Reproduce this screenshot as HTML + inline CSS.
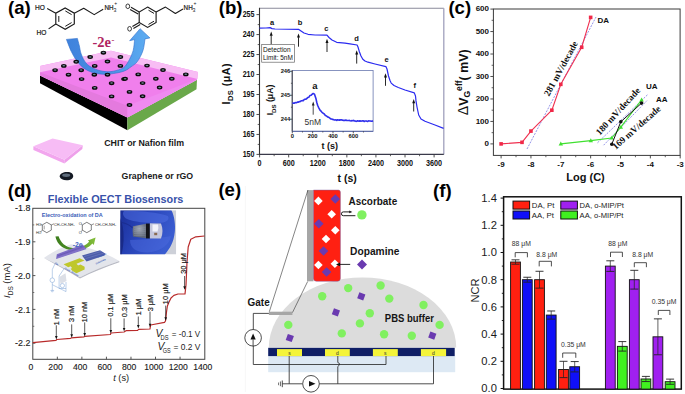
<!DOCTYPE html>
<html><head><meta charset="utf-8"><style>
html,body{margin:0;padding:0;background:#fff;}
body{width:685px;height:394px;overflow:hidden;font-family:"Liberation Sans",sans-serif;}
svg{display:block;}
</style></head><body>
<svg width="685" height="394" viewBox="0 0 685 394">
<rect width="685" height="394" fill="#fff"/>
<text x="8.00" y="14.40" font-family="Liberation Sans" font-size="18.6" font-weight="bold" font-style="normal" text-anchor="start" fill="#000" >(a)</text>
<polygon points="40.00,75.50 127.40,117.40 127.40,130.20 40.00,83.30" fill="#000" stroke="none" stroke-width="1" />
<polygon points="127.40,117.40 197.00,79.80 196.50,89.30 127.40,130.20" fill="#6aa84a" stroke="none" stroke-width="1" />
<polygon points="40.00,66.00 111.00,50.80 198.00,72.00 197.00,79.80 127.40,117.40 40.00,75.50" fill="#f07fec" stroke="none" stroke-width="1" />
<polygon points="40.00,72.20 127.40,105.80 127.40,117.40 40.00,75.50" fill="#e47ade" stroke="none" stroke-width="1" />
<polygon points="127.40,105.80 197.00,79.00 197.00,79.80 127.40,117.40" fill="#f08af0" stroke="none" stroke-width="1" />
<polygon points="40.00,66.00 111.00,50.80 198.00,72.00 197.50,79.00 111.00,57.40 40.00,72.20" fill="#f8bdf4" stroke="none" stroke-width="1" />
<defs><linearGradient id="ga" x1="0" y1="0" x2="1" y2="0"><stop offset="0" stop-color="#3f82dc"/><stop offset="0.5" stop-color="#4a90e4"/><stop offset="1" stop-color="#5eaef2"/></linearGradient></defs>
<path d="M134.60,39.60 C134.37,41.40 134.03,47.13 133.20,50.40 C132.37,53.67 130.97,56.53 129.60,59.20 C128.23,61.87 126.53,64.73 125.00,66.40 C123.47,68.07 122.73,68.33 120.40,69.20 C118.07,70.07 113.92,71.25 111.00,71.60 C108.08,71.95 105.82,71.83 102.90,71.30 C99.98,70.77 96.32,69.78 93.50,68.40 C90.68,67.02 88.05,65.40 86.00,63.00 C83.95,60.60 82.30,56.83 81.20,54.00 C80.10,51.17 80.03,48.60 79.40,46.00 C78.77,43.40 77.73,39.67 77.40,38.40 L66.4,39.4 C67.22,41.42 69.60,47.97 71.30,51.50 C73.00,55.03 74.65,57.93 76.60,60.60 C78.55,63.27 80.43,65.55 83.00,67.50 C85.57,69.45 88.50,71.17 92.00,72.30 C95.50,73.43 100.00,74.17 104.00,74.30 C108.00,74.43 112.50,73.70 116.00,73.10 C119.50,72.50 122.50,71.75 125.00,70.70 C127.50,69.65 128.95,68.32 131.00,66.80 C133.05,65.28 135.32,64.28 137.30,61.60 C139.28,58.92 141.62,54.48 142.90,50.70 C144.18,46.92 144.65,40.87 145.00,38.90 L149.9,37.9 L140.1,28.7 L129.7,40.7 Z" fill="url(#ga)" stroke="#2f6fcc" stroke-width="0.6"/>
<ellipse cx="103.40" cy="52.70" rx="2.8" ry="1.95" fill="#0a0a0a"/>
<ellipse cx="103.40" cy="52.60" rx="1.4" ry="0.75" fill="#6f8596"/>
<ellipse cx="90.20" cy="57.00" rx="2.8" ry="1.95" fill="#0a0a0a"/>
<ellipse cx="90.20" cy="56.90" rx="1.4" ry="0.75" fill="#6f8596"/>
<ellipse cx="120.40" cy="57.00" rx="2.8" ry="1.95" fill="#0a0a0a"/>
<ellipse cx="120.40" cy="56.90" rx="1.4" ry="0.75" fill="#6f8596"/>
<ellipse cx="76.20" cy="61.80" rx="2.8" ry="1.95" fill="#0a0a0a"/>
<ellipse cx="76.20" cy="61.70" rx="1.4" ry="0.75" fill="#6f8596"/>
<ellipse cx="107.50" cy="61.50" rx="2.8" ry="1.95" fill="#0a0a0a"/>
<ellipse cx="107.50" cy="61.40" rx="1.4" ry="0.75" fill="#6f8596"/>
<ellipse cx="63.80" cy="65.90" rx="2.8" ry="1.95" fill="#0a0a0a"/>
<ellipse cx="63.80" cy="65.80" rx="1.4" ry="0.75" fill="#6f8596"/>
<ellipse cx="94.70" cy="65.90" rx="2.8" ry="1.95" fill="#0a0a0a"/>
<ellipse cx="94.70" cy="65.80" rx="1.4" ry="0.75" fill="#6f8596"/>
<ellipse cx="120.40" cy="65.90" rx="2.8" ry="1.95" fill="#0a0a0a"/>
<ellipse cx="120.40" cy="65.80" rx="1.4" ry="0.75" fill="#6f8596"/>
<ellipse cx="55.10" cy="70.20" rx="2.8" ry="1.95" fill="#0a0a0a"/>
<ellipse cx="55.10" cy="70.10" rx="1.4" ry="0.75" fill="#6f8596"/>
<ellipse cx="81.20" cy="70.20" rx="2.8" ry="1.95" fill="#0a0a0a"/>
<ellipse cx="81.20" cy="70.10" rx="1.4" ry="0.75" fill="#6f8596"/>
<ellipse cx="68.50" cy="74.70" rx="2.8" ry="1.95" fill="#0a0a0a"/>
<ellipse cx="68.50" cy="74.60" rx="1.4" ry="0.75" fill="#6f8596"/>
<ellipse cx="94.30" cy="74.70" rx="2.8" ry="1.95" fill="#0a0a0a"/>
<ellipse cx="94.30" cy="74.60" rx="1.4" ry="0.75" fill="#6f8596"/>
<ellipse cx="107.50" cy="74.70" rx="2.8" ry="1.95" fill="#0a0a0a"/>
<ellipse cx="107.50" cy="74.60" rx="1.4" ry="0.75" fill="#6f8596"/>
<ellipse cx="81.60" cy="79.10" rx="2.8" ry="1.95" fill="#0a0a0a"/>
<ellipse cx="81.60" cy="79.00" rx="1.4" ry="0.75" fill="#6f8596"/>
<ellipse cx="124.00" cy="79.10" rx="2.8" ry="1.95" fill="#0a0a0a"/>
<ellipse cx="124.00" cy="79.00" rx="1.4" ry="0.75" fill="#6f8596"/>
<ellipse cx="111.60" cy="83.20" rx="2.8" ry="1.95" fill="#0a0a0a"/>
<ellipse cx="111.60" cy="83.10" rx="1.4" ry="0.75" fill="#6f8596"/>
<ellipse cx="94.70" cy="87.90" rx="2.8" ry="1.95" fill="#0a0a0a"/>
<ellipse cx="94.70" cy="87.80" rx="1.4" ry="0.75" fill="#6f8596"/>
<ellipse cx="111.60" cy="96.40" rx="2.8" ry="1.95" fill="#0a0a0a"/>
<ellipse cx="111.60" cy="96.30" rx="1.4" ry="0.75" fill="#6f8596"/>
<ellipse cx="147.00" cy="65.60" rx="2.8" ry="1.95" fill="#0a0a0a"/>
<ellipse cx="147.00" cy="65.50" rx="1.4" ry="0.75" fill="#6f8596"/>
<ellipse cx="163.00" cy="70.00" rx="2.8" ry="1.95" fill="#0a0a0a"/>
<ellipse cx="163.00" cy="69.90" rx="1.4" ry="0.75" fill="#6f8596"/>
<ellipse cx="185.80" cy="74.40" rx="2.8" ry="1.95" fill="#0a0a0a"/>
<ellipse cx="185.80" cy="74.30" rx="1.4" ry="0.75" fill="#6f8596"/>
<ellipse cx="138.20" cy="74.40" rx="2.8" ry="1.95" fill="#0a0a0a"/>
<ellipse cx="138.20" cy="74.30" rx="1.4" ry="0.75" fill="#6f8596"/>
<ellipse cx="125.10" cy="78.80" rx="2.8" ry="1.95" fill="#0a0a0a"/>
<ellipse cx="125.10" cy="78.70" rx="1.4" ry="0.75" fill="#6f8596"/>
<ellipse cx="155.80" cy="78.80" rx="2.8" ry="1.95" fill="#0a0a0a"/>
<ellipse cx="155.80" cy="78.70" rx="1.4" ry="0.75" fill="#6f8596"/>
<ellipse cx="171.80" cy="78.80" rx="2.8" ry="1.95" fill="#0a0a0a"/>
<ellipse cx="171.80" cy="78.70" rx="1.4" ry="0.75" fill="#6f8596"/>
<ellipse cx="142.60" cy="83.10" rx="2.8" ry="1.95" fill="#0a0a0a"/>
<ellipse cx="142.60" cy="83.00" rx="1.4" ry="0.75" fill="#6f8596"/>
<ellipse cx="129.50" cy="91.90" rx="2.8" ry="1.95" fill="#0a0a0a"/>
<ellipse cx="129.50" cy="91.80" rx="1.4" ry="0.75" fill="#6f8596"/>
<ellipse cx="159.60" cy="87.50" rx="2.8" ry="1.95" fill="#0a0a0a"/>
<ellipse cx="159.60" cy="87.40" rx="1.4" ry="0.75" fill="#6f8596"/>
<ellipse cx="142.60" cy="96.30" rx="2.8" ry="1.95" fill="#0a0a0a"/>
<ellipse cx="142.60" cy="96.20" rx="1.4" ry="0.75" fill="#6f8596"/>
<ellipse cx="129.50" cy="105.00" rx="2.8" ry="1.95" fill="#0a0a0a"/>
<ellipse cx="129.50" cy="104.90" rx="1.4" ry="0.75" fill="#6f8596"/>
<text x="92.40" y="46.70" font-family="Liberation Serif" font-size="14.5" font-weight="bold" font-style="normal" text-anchor="start" fill="#b02462" >-2e</text>
<text x="111.60" y="43.20" font-family="Liberation Serif" font-size="8.5" font-weight="bold" font-style="normal" text-anchor="start" fill="#b02462" >-</text>
<polygon points="65.20,8.00 74.30,13.20 74.30,24.00 65.20,29.30 55.80,24.00 55.80,13.20" fill="none" stroke="#1a1a1a" stroke-width="1.15" />
<line x1="58.80" y1="16.00" x2="58.80" y2="21.90" stroke="#1a1a1a" stroke-width="1.0" />
<line x1="65.30" y1="10.90" x2="71.60" y2="14.60" stroke="#1a1a1a" stroke-width="1.0" />
<line x1="65.30" y1="26.30" x2="71.60" y2="22.60" stroke="#1a1a1a" stroke-width="1.0" />
<line x1="47.20" y1="8.40" x2="55.80" y2="13.20" stroke="#1a1a1a" stroke-width="1.1" />
<line x1="48.60" y1="28.90" x2="55.80" y2="24.00" stroke="#1a1a1a" stroke-width="1.1" />
<polyline points="74.30,13.20 83.70,8.20 94.20,14.60 103.20,9.20" fill="none" stroke="#1a1a1a" stroke-width="1.1" stroke-linejoin="round" />
<text x="35.00" y="9.60" font-family="Liberation Sans" font-size="6.6" font-weight="normal" font-style="normal" text-anchor="start" fill="#1a1a1a" stroke="#1a1a1a" stroke-width="0.2">HO</text>
<text x="36.60" y="34.60" font-family="Liberation Sans" font-size="6.6" font-weight="normal" font-style="normal" text-anchor="start" fill="#1a1a1a" stroke="#1a1a1a" stroke-width="0.2">HO</text>
<text x="104.40" y="9.80" font-family="Liberation Sans" font-size="6.3" font-weight="normal" font-style="normal" text-anchor="start" fill="#1a1a1a" stroke="#1a1a1a" stroke-width="0.2">NH</text>
<text x="113.40" y="12.00" font-family="Liberation Sans" font-size="5.2" font-weight="normal" font-style="normal" text-anchor="start" fill="#1a1a1a" >3</text>
<text x="114.20" y="4.60" font-family="Liberation Sans" font-size="5.0" font-weight="normal" font-style="normal" text-anchor="start" fill="#1a1a1a" >+</text>
<polygon points="147.60,7.10 156.10,12.00 156.10,22.50 147.60,27.40 139.20,22.50 139.20,12.00" fill="none" stroke="#1a1a1a" stroke-width="1.15" />
<line x1="148.50" y1="10.20" x2="154.00" y2="13.40" stroke="#1a1a1a" stroke-width="1.0" />
<line x1="148.50" y1="24.40" x2="154.00" y2="21.20" stroke="#1a1a1a" stroke-width="1.0" />
<line x1="139.20" y1="12.00" x2="131.00" y2="7.20" stroke="#1a1a1a" stroke-width="1.1" />
<line x1="138.20" y1="14.10" x2="130.10" y2="9.40" stroke="#1a1a1a" stroke-width="1.1" />
<line x1="139.20" y1="22.50" x2="132.40" y2="26.40" stroke="#1a1a1a" stroke-width="1.1" />
<line x1="140.20" y1="24.60" x2="133.40" y2="28.50" stroke="#1a1a1a" stroke-width="1.1" />
<ellipse cx="127.8" cy="6.3" rx="1.9" ry="2.3" fill="none" stroke="#1a1a1a" stroke-width="0.85"/>
<ellipse cx="129.6" cy="28.8" rx="1.9" ry="2.3" fill="none" stroke="#1a1a1a" stroke-width="0.85"/>
<polyline points="156.10,12.00 165.50,7.10 175.40,13.50 183.00,9.00" fill="none" stroke="#1a1a1a" stroke-width="1.1" stroke-linejoin="round" />
<text x="183.60" y="9.80" font-family="Liberation Sans" font-size="6.3" font-weight="normal" font-style="normal" text-anchor="start" fill="#1a1a1a" stroke="#1a1a1a" stroke-width="0.2">NH</text>
<text x="192.60" y="12.00" font-family="Liberation Sans" font-size="5.2" font-weight="normal" font-style="normal" text-anchor="start" fill="#1a1a1a" >3</text>
<text x="193.40" y="4.60" font-family="Liberation Sans" font-size="5.0" font-weight="normal" font-style="normal" text-anchor="start" fill="#1a1a1a" >+</text>
<polygon points="33.40,146.30 64.40,159.70 64.40,163.60 33.40,149.90" fill="#f2a6ee" stroke="none" stroke-width="1" />
<polygon points="64.40,159.70 82.80,145.20 82.30,148.90 64.40,163.60" fill="#eea0ea" stroke="none" stroke-width="1" />
<polygon points="33.40,146.30 52.60,138.40 82.80,145.20 64.40,159.70" fill="#f7bcf5" stroke="none" stroke-width="1" />
<text x="104.20" y="146.40" font-family="Liberation Sans" font-size="9.6" font-weight="bold" font-style="normal" text-anchor="start" fill="#1a1a1a" textLength="79.8" lengthAdjust="spacingAndGlyphs">CHIT or Nafion film</text>
<path d="M59.6,176.5 C60,173.5 63,172 67,172 C71.5,172 73.4,174 73.2,176.5 C73,179 70,180.4 66.5,180.3 C63,180.2 60.5,179 59.6,176.5 Z" fill="#141a24"/>
<ellipse cx="66.2" cy="175.2" rx="4" ry="1.7" fill="#5e6c7c"/>
<text x="121.60" y="178.80" font-family="Liberation Sans" font-size="9.6" font-weight="bold" font-style="normal" text-anchor="start" fill="#1a1a1a" textLength="71.6" lengthAdjust="spacingAndGlyphs">Graphene or rGO</text>
<text x="218.80" y="14.40" font-family="Liberation Sans" font-size="18.6" font-weight="bold" font-style="normal" text-anchor="start" fill="#000" >(b)</text>
<line x1="259.50" y1="8.30" x2="443.80" y2="8.30" stroke="#8a8a9a" stroke-width="1.1" />
<line x1="443.80" y1="8.30" x2="443.80" y2="154.40" stroke="#a0a0bc" stroke-width="1.3" />
<line x1="259.50" y1="154.40" x2="443.80" y2="154.40" stroke="#3a3a4a" stroke-width="1.1" />
<line x1="259.50" y1="7.80" x2="259.50" y2="154.90" stroke="#333" stroke-width="1.1" />
<line x1="256.50" y1="154.40" x2="259.50" y2="154.40" stroke="#3a3a3a" stroke-width="0.9" />
<text x="254.50" y="156.90" font-family="Liberation Sans" font-size="8.3" font-weight="bold" font-style="normal" text-anchor="end" fill="#111" textLength="11.85" lengthAdjust="spacingAndGlyphs">150</text>
<line x1="256.50" y1="134.43" x2="259.50" y2="134.43" stroke="#3a3a3a" stroke-width="0.9" />
<text x="254.50" y="136.93" font-family="Liberation Sans" font-size="8.3" font-weight="bold" font-style="normal" text-anchor="end" fill="#111" textLength="11.85" lengthAdjust="spacingAndGlyphs">165</text>
<line x1="256.50" y1="114.46" x2="259.50" y2="114.46" stroke="#3a3a3a" stroke-width="0.9" />
<text x="254.50" y="116.96" font-family="Liberation Sans" font-size="8.3" font-weight="bold" font-style="normal" text-anchor="end" fill="#111" textLength="11.85" lengthAdjust="spacingAndGlyphs">180</text>
<line x1="256.50" y1="94.49" x2="259.50" y2="94.49" stroke="#3a3a3a" stroke-width="0.9" />
<text x="254.50" y="96.99" font-family="Liberation Sans" font-size="8.3" font-weight="bold" font-style="normal" text-anchor="end" fill="#111" textLength="11.85" lengthAdjust="spacingAndGlyphs">195</text>
<line x1="256.50" y1="74.51" x2="259.50" y2="74.51" stroke="#3a3a3a" stroke-width="0.9" />
<text x="254.50" y="77.01" font-family="Liberation Sans" font-size="8.3" font-weight="bold" font-style="normal" text-anchor="end" fill="#111" textLength="11.85" lengthAdjust="spacingAndGlyphs">210</text>
<line x1="256.50" y1="54.54" x2="259.50" y2="54.54" stroke="#3a3a3a" stroke-width="0.9" />
<text x="254.50" y="57.04" font-family="Liberation Sans" font-size="8.3" font-weight="bold" font-style="normal" text-anchor="end" fill="#111" textLength="11.85" lengthAdjust="spacingAndGlyphs">225</text>
<line x1="256.50" y1="34.57" x2="259.50" y2="34.57" stroke="#3a3a3a" stroke-width="0.9" />
<text x="254.50" y="37.07" font-family="Liberation Sans" font-size="8.3" font-weight="bold" font-style="normal" text-anchor="end" fill="#111" textLength="11.85" lengthAdjust="spacingAndGlyphs">240</text>
<line x1="256.50" y1="14.60" x2="259.50" y2="14.60" stroke="#3a3a3a" stroke-width="0.9" />
<text x="254.50" y="17.10" font-family="Liberation Sans" font-size="8.3" font-weight="bold" font-style="normal" text-anchor="end" fill="#111" textLength="11.85" lengthAdjust="spacingAndGlyphs">255</text>
<line x1="257.70" y1="144.41" x2="259.50" y2="144.41" stroke="#3a3a3a" stroke-width="0.8" />
<line x1="257.70" y1="124.44" x2="259.50" y2="124.44" stroke="#3a3a3a" stroke-width="0.8" />
<line x1="257.70" y1="104.47" x2="259.50" y2="104.47" stroke="#3a3a3a" stroke-width="0.8" />
<line x1="257.70" y1="84.50" x2="259.50" y2="84.50" stroke="#3a3a3a" stroke-width="0.8" />
<line x1="257.70" y1="64.53" x2="259.50" y2="64.53" stroke="#3a3a3a" stroke-width="0.8" />
<line x1="257.70" y1="44.56" x2="259.50" y2="44.56" stroke="#3a3a3a" stroke-width="0.8" />
<line x1="257.70" y1="24.59" x2="259.50" y2="24.59" stroke="#3a3a3a" stroke-width="0.8" />
<line x1="259.60" y1="154.40" x2="259.60" y2="157.40" stroke="#3a3a3a" stroke-width="0.9" />
<text x="259.60" y="166.00" font-family="Liberation Sans" font-size="8.4" font-weight="bold" font-style="normal" text-anchor="middle" fill="#111" textLength="4.00" lengthAdjust="spacingAndGlyphs">0</text>
<line x1="288.68" y1="154.40" x2="288.68" y2="157.40" stroke="#3a3a3a" stroke-width="0.9" />
<text x="288.68" y="166.00" font-family="Liberation Sans" font-size="8.4" font-weight="bold" font-style="normal" text-anchor="middle" fill="#111" textLength="12.00" lengthAdjust="spacingAndGlyphs">600</text>
<line x1="317.77" y1="154.40" x2="317.77" y2="157.40" stroke="#3a3a3a" stroke-width="0.9" />
<text x="317.77" y="166.00" font-family="Liberation Sans" font-size="8.4" font-weight="bold" font-style="normal" text-anchor="middle" fill="#111" textLength="16.00" lengthAdjust="spacingAndGlyphs">1200</text>
<line x1="346.85" y1="154.40" x2="346.85" y2="157.40" stroke="#3a3a3a" stroke-width="0.9" />
<text x="346.85" y="166.00" font-family="Liberation Sans" font-size="8.4" font-weight="bold" font-style="normal" text-anchor="middle" fill="#111" textLength="16.00" lengthAdjust="spacingAndGlyphs">1800</text>
<line x1="375.93" y1="154.40" x2="375.93" y2="157.40" stroke="#3a3a3a" stroke-width="0.9" />
<text x="375.93" y="166.00" font-family="Liberation Sans" font-size="8.4" font-weight="bold" font-style="normal" text-anchor="middle" fill="#111" textLength="16.00" lengthAdjust="spacingAndGlyphs">2400</text>
<line x1="405.02" y1="154.40" x2="405.02" y2="157.40" stroke="#3a3a3a" stroke-width="0.9" />
<text x="405.02" y="166.00" font-family="Liberation Sans" font-size="8.4" font-weight="bold" font-style="normal" text-anchor="middle" fill="#111" textLength="16.00" lengthAdjust="spacingAndGlyphs">3000</text>
<line x1="434.10" y1="154.40" x2="434.10" y2="157.40" stroke="#3a3a3a" stroke-width="0.9" />
<text x="434.10" y="166.00" font-family="Liberation Sans" font-size="8.4" font-weight="bold" font-style="normal" text-anchor="middle" fill="#111" textLength="16.00" lengthAdjust="spacingAndGlyphs">3600</text>
<line x1="274.14" y1="154.40" x2="274.14" y2="156.20" stroke="#3a3a3a" stroke-width="0.8" />
<line x1="303.23" y1="154.40" x2="303.23" y2="156.20" stroke="#3a3a3a" stroke-width="0.8" />
<line x1="332.31" y1="154.40" x2="332.31" y2="156.20" stroke="#3a3a3a" stroke-width="0.8" />
<line x1="361.39" y1="154.40" x2="361.39" y2="156.20" stroke="#3a3a3a" stroke-width="0.8" />
<line x1="390.48" y1="154.40" x2="390.48" y2="156.20" stroke="#3a3a3a" stroke-width="0.8" />
<line x1="419.56" y1="154.40" x2="419.56" y2="156.20" stroke="#3a3a3a" stroke-width="0.8" />
<text x="347.20" y="182.40" font-family="Liberation Sans" font-size="10.5" font-weight="bold" font-style="normal" text-anchor="middle" fill="#111" >t (s)</text>
<text transform="translate(230.0,84.0) rotate(-90)" font-family="Liberation Sans" font-size="10.8" font-weight="bold" text-anchor="middle" fill="#111" textLength="41" lengthAdjust="spacing">I<tspan font-size="7.6" dy="2.6">DS</tspan><tspan dy="-2.6"> (μA)</tspan></text>
<polyline points="259.50,28.10 266.00,28.00 270.10,27.60 272.00,28.60 275.00,29.00 298.50,29.30 301.00,31.00 304.00,33.00 308.00,34.30 315.00,35.00 327.00,35.20 329.00,37.50 332.00,40.00 336.70,42.30 345.00,43.20 350.00,43.90 357.10,45.00 358.00,47.00 359.20,51.20 361.00,56.00 362.80,59.20 365.00,61.00 368.00,62.20 375.00,64.00 385.90,66.60 387.00,69.00 388.50,76.00 390.00,80.50 391.20,83.10 394.00,85.50 398.30,87.50 405.00,90.00 414.30,92.90 415.50,96.00 416.00,100.90 417.00,107.00 418.70,115.00 421.00,119.00 425.00,121.30 435.00,125.00 443.60,128.40" fill="none" stroke="#2a2af0" stroke-width="1.2" stroke-linejoin="round" />
<line x1="271.20" y1="35.30" x2="271.20" y2="44.40" stroke="#111" stroke-width="0.9" />
<polygon points="271.20,31.60 269.70,35.80 272.70,35.80" fill="#111" stroke="none" stroke-width="1" />
<line x1="298.50" y1="37.10" x2="298.50" y2="46.70" stroke="#111" stroke-width="0.9" />
<polygon points="298.50,33.40 297.00,37.60 300.00,37.60" fill="#111" stroke="none" stroke-width="1" />
<line x1="327.00" y1="42.40" x2="327.00" y2="52.00" stroke="#111" stroke-width="0.9" />
<polygon points="327.00,38.70 325.50,42.90 328.50,42.90" fill="#111" stroke="none" stroke-width="1" />
<line x1="356.70" y1="54.00" x2="356.70" y2="63.60" stroke="#111" stroke-width="0.9" />
<polygon points="356.70,50.30 355.20,54.50 358.20,54.50" fill="#111" stroke="none" stroke-width="1" />
<line x1="385.50" y1="77.00" x2="385.50" y2="85.80" stroke="#111" stroke-width="0.9" />
<polygon points="385.50,73.30 384.00,77.50 387.00,77.50" fill="#111" stroke="none" stroke-width="1" />
<line x1="413.70" y1="102.70" x2="413.70" y2="111.50" stroke="#111" stroke-width="0.9" />
<polygon points="413.70,99.00 412.20,103.20 415.20,103.20" fill="#111" stroke="none" stroke-width="1" />
<text x="272.20" y="25.40" font-family="Liberation Sans" font-size="7.5" font-weight="bold" font-style="normal" text-anchor="middle" fill="#111" >a</text>
<text x="300.00" y="24.50" font-family="Liberation Sans" font-size="7.5" font-weight="bold" font-style="normal" text-anchor="middle" fill="#111" >b</text>
<text x="326.40" y="31.20" font-family="Liberation Sans" font-size="7.5" font-weight="bold" font-style="normal" text-anchor="middle" fill="#111" >c</text>
<text x="356.50" y="41.00" font-family="Liberation Sans" font-size="7.5" font-weight="bold" font-style="normal" text-anchor="middle" fill="#111" >d</text>
<text x="386.70" y="62.00" font-family="Liberation Sans" font-size="7.5" font-weight="bold" font-style="normal" text-anchor="middle" fill="#111" >e</text>
<text x="414.80" y="87.50" font-family="Liberation Sans" font-size="7.5" font-weight="bold" font-style="normal" text-anchor="middle" fill="#111" >f</text>
<rect x="261.70" y="44.40" width="32.70" height="17.80" fill="#fff" stroke="#666" stroke-width="0.7" />
<text x="263.00" y="51.80" font-family="Liberation Sans" font-size="7.2" font-weight="normal" font-style="normal" text-anchor="start" fill="#111" textLength="27.6" lengthAdjust="spacingAndGlyphs">Detection</text>
<text x="263.00" y="60.20" font-family="Liberation Sans" font-size="7.2" font-weight="normal" font-style="normal" text-anchor="start" fill="#111" textLength="29.8" lengthAdjust="spacingAndGlyphs">Limit: 5nM</text>
<rect x="292.20" y="70.40" width="80.90" height="60.90" fill="#fff" stroke="#6a78b0" stroke-width="0.8" />
<line x1="292.20" y1="70.40" x2="292.20" y2="131.30" stroke="#333" stroke-width="0.9" />
<line x1="292.20" y1="131.30" x2="373.10" y2="131.30" stroke="#5060a0" stroke-width="0.9" />
<line x1="290.00" y1="119.20" x2="292.20" y2="119.20" stroke="#333" stroke-width="0.8" />
<text x="290.30" y="121.20" font-family="Liberation Sans" font-size="5.8" font-weight="bold" font-style="normal" text-anchor="end" fill="#111" >244</text>
<line x1="290.00" y1="95.25" x2="292.20" y2="95.25" stroke="#333" stroke-width="0.8" />
<text x="290.30" y="97.25" font-family="Liberation Sans" font-size="5.8" font-weight="bold" font-style="normal" text-anchor="end" fill="#111" >245</text>
<line x1="290.00" y1="71.30" x2="292.20" y2="71.30" stroke="#333" stroke-width="0.8" />
<text x="290.30" y="73.30" font-family="Liberation Sans" font-size="5.8" font-weight="bold" font-style="normal" text-anchor="end" fill="#111" >246</text>
<line x1="290.90" y1="107.23" x2="292.20" y2="107.23" stroke="#333" stroke-width="0.7" />
<line x1="290.90" y1="83.28" x2="292.20" y2="83.28" stroke="#333" stroke-width="0.7" />
<line x1="292.30" y1="131.30" x2="292.30" y2="133.30" stroke="#333" stroke-width="0.8" />
<text x="292.30" y="138.40" font-family="Liberation Sans" font-size="5.8" font-weight="bold" font-style="normal" text-anchor="middle" fill="#111" >0</text>
<line x1="312.63" y1="131.30" x2="312.63" y2="133.30" stroke="#333" stroke-width="0.8" />
<text x="312.63" y="138.40" font-family="Liberation Sans" font-size="5.8" font-weight="bold" font-style="normal" text-anchor="middle" fill="#111" >200</text>
<line x1="332.97" y1="131.30" x2="332.97" y2="133.30" stroke="#333" stroke-width="0.8" />
<text x="332.97" y="138.40" font-family="Liberation Sans" font-size="5.8" font-weight="bold" font-style="normal" text-anchor="middle" fill="#111" >400</text>
<line x1="353.30" y1="131.30" x2="353.30" y2="133.30" stroke="#333" stroke-width="0.8" />
<text x="353.30" y="138.40" font-family="Liberation Sans" font-size="5.8" font-weight="bold" font-style="normal" text-anchor="middle" fill="#111" >600</text>
<line x1="302.47" y1="131.30" x2="302.47" y2="132.50" stroke="#333" stroke-width="0.7" />
<line x1="322.80" y1="131.30" x2="322.80" y2="132.50" stroke="#333" stroke-width="0.7" />
<line x1="343.13" y1="131.30" x2="343.13" y2="132.50" stroke="#333" stroke-width="0.7" />
<line x1="363.47" y1="131.30" x2="363.47" y2="132.50" stroke="#333" stroke-width="0.7" />
<text x="329.80" y="149.40" font-family="Liberation Sans" font-size="9.0" font-weight="bold" font-style="normal" text-anchor="middle" fill="#111" >t (s)</text>
<text transform="translate(273.4,100.0) rotate(-90)" font-family="Liberation Sans" font-size="8.7" font-weight="bold" text-anchor="middle" fill="#111">I<tspan font-size="6.1" dy="2.2">DS</tspan><tspan dy="-2.2"> (μA)</tspan></text>
<polyline points="292.30,103.34 293.23,103.01 294.15,103.29 295.07,102.59 296.00,102.83 296.80,102.48 297.60,102.00 298.40,102.21 299.20,101.58 300.00,101.74 300.80,101.05 301.60,100.71 302.40,100.65 303.20,100.65 304.00,99.66 304.80,99.25 305.60,99.11 306.40,98.90 307.20,98.07 308.00,97.41 309.00,97.10 310.00,95.43 311.00,95.32 312.10,94.21 313.20,93.48 314.50,94.16 316.00,98.83 316.80,102.53 317.60,105.21 318.80,107.82 320.00,110.13 321.00,111.05 322.00,112.38 323.00,113.11 323.80,113.70 324.60,114.44 325.40,115.46 326.20,115.83 327.00,116.33 327.80,117.03 328.60,117.36 329.40,117.67 330.20,118.56 331.00,118.93 331.80,118.97 332.64,119.43 333.48,119.54 334.32,120.02 335.16,120.05 336.00,119.81 336.82,120.45 337.64,119.69 338.45,119.98 339.27,120.30 340.09,119.78 340.91,120.10 341.73,119.71 342.55,120.30 343.36,120.40 344.18,120.25 345.00,120.54 345.88,120.08 346.75,120.48 347.62,120.43 348.50,120.47 349.38,120.41 350.25,120.81 351.12,120.95 352.00,120.58 352.80,120.81 353.60,120.32 354.40,120.96 355.20,120.97 356.00,121.34 356.80,121.25 357.60,120.83 358.40,120.98 359.20,121.29 360.00,120.77 360.86,121.18 361.71,120.93 362.57,120.90 363.43,120.86 364.29,121.51 365.14,120.95 366.00,121.07 366.88,121.14 367.75,121.51 368.62,120.74 369.50,121.00 370.38,121.03 371.25,121.27 372.12,121.15 373.00,120.80" fill="none" stroke="#3030ec" stroke-width="1.6" stroke-linejoin="round" />
<line x1="313.20" y1="104.90" x2="313.20" y2="114.70" stroke="#222" stroke-width="0.8" />
<polygon points="313.20,101.40 311.80,105.40 314.60,105.40" fill="#222" stroke="none" stroke-width="1" />
<text x="315.00" y="88.60" font-family="Liberation Sans" font-size="9.5" font-weight="bold" font-style="normal" text-anchor="middle" fill="#111" >a</text>
<text x="312.80" y="124.60" font-family="Liberation Sans" font-size="8.5" font-weight="normal" font-style="normal" text-anchor="middle" fill="#333" >5nM</text>
<text x="448.40" y="14.40" font-family="Liberation Sans" font-size="18.6" font-weight="bold" font-style="normal" text-anchor="start" fill="#000" >(c)</text>
<rect x="493.40" y="9.00" width="186.70" height="146.40" fill="none" stroke="#3a3a3a" stroke-width="1" />
<line x1="490.40" y1="143.90" x2="493.40" y2="143.90" stroke="#3a3a3a" stroke-width="0.9" />
<text x="489.00" y="146.20" font-family="Liberation Sans" font-size="8" font-weight="bold" font-style="normal" text-anchor="end" fill="#111" >0</text>
<line x1="490.40" y1="121.43" x2="493.40" y2="121.43" stroke="#3a3a3a" stroke-width="0.9" />
<text x="489.00" y="123.73" font-family="Liberation Sans" font-size="8" font-weight="bold" font-style="normal" text-anchor="end" fill="#111" >100</text>
<line x1="490.40" y1="98.96" x2="493.40" y2="98.96" stroke="#3a3a3a" stroke-width="0.9" />
<text x="489.00" y="101.26" font-family="Liberation Sans" font-size="8" font-weight="bold" font-style="normal" text-anchor="end" fill="#111" >200</text>
<line x1="490.40" y1="76.49" x2="493.40" y2="76.49" stroke="#3a3a3a" stroke-width="0.9" />
<text x="489.00" y="78.79" font-family="Liberation Sans" font-size="8" font-weight="bold" font-style="normal" text-anchor="end" fill="#111" >300</text>
<line x1="490.40" y1="54.02" x2="493.40" y2="54.02" stroke="#3a3a3a" stroke-width="0.9" />
<text x="489.00" y="56.32" font-family="Liberation Sans" font-size="8" font-weight="bold" font-style="normal" text-anchor="end" fill="#111" >400</text>
<line x1="490.40" y1="31.55" x2="493.40" y2="31.55" stroke="#3a3a3a" stroke-width="0.9" />
<text x="489.00" y="33.85" font-family="Liberation Sans" font-size="8" font-weight="bold" font-style="normal" text-anchor="end" fill="#111" >500</text>
<line x1="490.40" y1="9.08" x2="493.40" y2="9.08" stroke="#3a3a3a" stroke-width="0.9" />
<text x="489.00" y="11.38" font-family="Liberation Sans" font-size="8" font-weight="bold" font-style="normal" text-anchor="end" fill="#111" >600</text>
<line x1="491.60" y1="132.66" x2="493.40" y2="132.66" stroke="#3a3a3a" stroke-width="0.8" />
<line x1="491.60" y1="110.20" x2="493.40" y2="110.20" stroke="#3a3a3a" stroke-width="0.8" />
<line x1="491.60" y1="87.72" x2="493.40" y2="87.72" stroke="#3a3a3a" stroke-width="0.8" />
<line x1="491.60" y1="65.25" x2="493.40" y2="65.25" stroke="#3a3a3a" stroke-width="0.8" />
<line x1="491.60" y1="42.78" x2="493.40" y2="42.78" stroke="#3a3a3a" stroke-width="0.8" />
<line x1="491.60" y1="20.31" x2="493.40" y2="20.31" stroke="#3a3a3a" stroke-width="0.8" />
<line x1="501.10" y1="155.40" x2="501.10" y2="158.40" stroke="#3a3a3a" stroke-width="0.9" />
<text x="501.10" y="167.20" font-family="Liberation Sans" font-size="8" font-weight="bold" font-style="normal" text-anchor="middle" fill="#111" >-9</text>
<line x1="530.95" y1="155.40" x2="530.95" y2="158.40" stroke="#3a3a3a" stroke-width="0.9" />
<text x="530.95" y="167.20" font-family="Liberation Sans" font-size="8" font-weight="bold" font-style="normal" text-anchor="middle" fill="#111" >-8</text>
<line x1="560.80" y1="155.40" x2="560.80" y2="158.40" stroke="#3a3a3a" stroke-width="0.9" />
<text x="560.80" y="167.20" font-family="Liberation Sans" font-size="8" font-weight="bold" font-style="normal" text-anchor="middle" fill="#111" >-7</text>
<line x1="590.65" y1="155.40" x2="590.65" y2="158.40" stroke="#3a3a3a" stroke-width="0.9" />
<text x="590.65" y="167.20" font-family="Liberation Sans" font-size="8" font-weight="bold" font-style="normal" text-anchor="middle" fill="#111" >-6</text>
<line x1="620.50" y1="155.40" x2="620.50" y2="158.40" stroke="#3a3a3a" stroke-width="0.9" />
<text x="620.50" y="167.20" font-family="Liberation Sans" font-size="8" font-weight="bold" font-style="normal" text-anchor="middle" fill="#111" >-5</text>
<line x1="650.35" y1="155.40" x2="650.35" y2="158.40" stroke="#3a3a3a" stroke-width="0.9" />
<text x="650.35" y="167.20" font-family="Liberation Sans" font-size="8" font-weight="bold" font-style="normal" text-anchor="middle" fill="#111" >-4</text>
<line x1="680.20" y1="155.40" x2="680.20" y2="158.40" stroke="#3a3a3a" stroke-width="0.9" />
<text x="680.20" y="167.20" font-family="Liberation Sans" font-size="8" font-weight="bold" font-style="normal" text-anchor="middle" fill="#111" >-3</text>
<line x1="516.02" y1="155.40" x2="516.02" y2="157.20" stroke="#3a3a3a" stroke-width="0.8" />
<line x1="545.88" y1="155.40" x2="545.88" y2="157.20" stroke="#3a3a3a" stroke-width="0.8" />
<line x1="575.73" y1="155.40" x2="575.73" y2="157.20" stroke="#3a3a3a" stroke-width="0.8" />
<line x1="605.58" y1="155.40" x2="605.58" y2="157.20" stroke="#3a3a3a" stroke-width="0.8" />
<line x1="635.43" y1="155.40" x2="635.43" y2="157.20" stroke="#3a3a3a" stroke-width="0.8" />
<line x1="665.28" y1="155.40" x2="665.28" y2="157.20" stroke="#3a3a3a" stroke-width="0.8" />
<text x="585.50" y="181.20" font-family="Liberation Sans" font-size="11" font-weight="bold" font-style="normal" text-anchor="middle" fill="#111" >Log (C)</text>
<text transform="translate(467.6,82.3) rotate(-90)" font-family="Liberation Sans" font-size="12.4" font-weight="bold" text-anchor="middle" fill="#111"><tspan font-weight="normal" font-size="14">Δ</tspan>V<tspan font-size="8.6" dy="2.8">G</tspan><tspan font-size="8.6" dy="-8.6">eff</tspan><tspan dy="5.8">( mV)</tspan></text>
<line x1="527.00" y1="149.00" x2="596.00" y2="17.00" stroke="#4848d8" stroke-width="0.6" stroke-dasharray="2,1.2"/>
<line x1="597.50" y1="142.80" x2="648.10" y2="94.20" stroke="#4848d8" stroke-width="0.6" stroke-dasharray="2,1.2"/>
<line x1="603.60" y1="145.20" x2="646.90" y2="100.70" stroke="#4848d8" stroke-width="0.6" stroke-dasharray="2,1.2"/>
<polyline points="501.10,143.90 522.00,142.33 530.95,131.09 551.85,110.20 560.80,84.35 581.70,47.28 590.65,17.39" fill="none" stroke="#f03050" stroke-width="1.1" stroke-linejoin="round" />
<rect x="499.30" y="142.10" width="3.60" height="3.60" fill="#f02848" stroke="none" stroke-width="1" />
<rect x="520.20" y="140.53" width="3.60" height="3.60" fill="#f02848" stroke="none" stroke-width="1" />
<rect x="529.15" y="129.29" width="3.60" height="3.60" fill="#f02848" stroke="none" stroke-width="1" />
<rect x="550.05" y="108.40" width="3.60" height="3.60" fill="#f02848" stroke="none" stroke-width="1" />
<rect x="559.00" y="82.55" width="3.60" height="3.60" fill="#f02848" stroke="none" stroke-width="1" />
<rect x="579.90" y="45.48" width="3.60" height="3.60" fill="#f02848" stroke="none" stroke-width="1" />
<rect x="588.85" y="15.59" width="3.60" height="3.60" fill="#f02848" stroke="none" stroke-width="1" />
<polyline points="560.80,143.90 590.80,140.60 611.70,138.00 620.80,127.20 641.60,99.90" fill="none" stroke="#40e030" stroke-width="1.1" stroke-linejoin="round" />
<polygon points="560.80,141.60 558.60,145.50 563.00,145.50" fill="#40e030" stroke="none" stroke-width="1" />
<polygon points="590.80,138.30 588.60,142.20 593.00,142.20" fill="#40e030" stroke="none" stroke-width="1" />
<polygon points="611.70,135.70 609.50,139.60 613.90,139.60" fill="#40e030" stroke="none" stroke-width="1" />
<polygon points="620.80,124.90 618.60,128.80 623.00,128.80" fill="#40e030" stroke="none" stroke-width="1" />
<polygon points="641.60,97.60 639.40,101.50 643.80,101.50" fill="#40e030" stroke="none" stroke-width="1" />
<polyline points="611.80,144.20 620.80,121.80 641.60,103.10" fill="none" stroke="#111" stroke-width="1.0" stroke-linejoin="round" />
<circle cx="611.80" cy="144.20" r="1.80" fill="#111" stroke="none" stroke-width="1" />
<circle cx="620.80" cy="121.80" r="1.80" fill="#111" stroke="none" stroke-width="1" />
<circle cx="641.60" cy="103.10" r="1.80" fill="#111" stroke="none" stroke-width="1" />
<text x="597.50" y="23.20" font-family="Liberation Sans" font-size="8" font-weight="bold" font-style="normal" text-anchor="start" fill="#111" >DA</text>
<text x="646.00" y="89.40" font-family="Liberation Sans" font-size="8" font-weight="bold" font-style="normal" text-anchor="start" fill="#111" >UA</text>
<text x="656.00" y="102.00" font-family="Liberation Sans" font-size="8" font-weight="bold" font-style="normal" text-anchor="start" fill="#111" >AA</text>
<text transform="translate(563.60,70.00) rotate(-61.5)" font-family="Liberation Serif" font-size="9.3" font-weight="bold" text-anchor="middle" fill="#111">281 mV/decade</text>
<text transform="translate(620.30,113.30) rotate(-47.5)" font-family="Liberation Serif" font-size="9.3" font-weight="bold" text-anchor="middle" fill="#111">180 mV/decade</text>
<text transform="translate(638.60,129.80) rotate(-41.5)" font-family="Liberation Serif" font-size="9.3" font-weight="bold" text-anchor="middle" fill="#111">169 mV/decade</text>
<text x="7.80" y="196.70" font-family="Liberation Sans" font-size="18.6" font-weight="bold" font-style="normal" text-anchor="start" fill="#000" >(d)</text>
<text x="47.80" y="203.20" font-family="Liberation Sans" font-size="10.85" font-weight="bold" font-style="normal" text-anchor="start" fill="#3852aa" >Flexible OECT Biosensors</text>
<rect x="32.80" y="208.30" width="172.00" height="151.00" fill="none" stroke="#444" stroke-width="1" />
<text x="30.40" y="211.20" font-family="Liberation Sans" font-size="8.9" font-weight="normal" font-style="normal" text-anchor="end" fill="#1a1a1a" stroke="#1a1a1a" stroke-width="0.12">-1.8</text>
<line x1="32.80" y1="241.80" x2="35.40" y2="241.80" stroke="#444" stroke-width="0.9" />
<text x="30.40" y="245.00" font-family="Liberation Sans" font-size="8.9" font-weight="normal" font-style="normal" text-anchor="end" fill="#1a1a1a" stroke="#1a1a1a" stroke-width="0.12">-1.9</text>
<line x1="32.80" y1="275.60" x2="35.40" y2="275.60" stroke="#444" stroke-width="0.9" />
<text x="30.40" y="278.80" font-family="Liberation Sans" font-size="8.9" font-weight="normal" font-style="normal" text-anchor="end" fill="#1a1a1a" stroke="#1a1a1a" stroke-width="0.12">-2.0</text>
<line x1="32.80" y1="309.40" x2="35.40" y2="309.40" stroke="#444" stroke-width="0.9" />
<text x="30.40" y="312.60" font-family="Liberation Sans" font-size="8.9" font-weight="normal" font-style="normal" text-anchor="end" fill="#1a1a1a" stroke="#1a1a1a" stroke-width="0.12">-2.1</text>
<line x1="32.80" y1="343.20" x2="35.40" y2="343.20" stroke="#444" stroke-width="0.9" />
<text x="30.40" y="346.40" font-family="Liberation Sans" font-size="8.9" font-weight="normal" font-style="normal" text-anchor="end" fill="#1a1a1a" stroke="#1a1a1a" stroke-width="0.12">-2.2</text>
<line x1="32.80" y1="224.90" x2="34.30" y2="224.90" stroke="#444" stroke-width="0.7" />
<line x1="32.80" y1="258.70" x2="34.30" y2="258.70" stroke="#444" stroke-width="0.7" />
<line x1="32.80" y1="292.50" x2="34.30" y2="292.50" stroke="#444" stroke-width="0.7" />
<line x1="32.80" y1="326.30" x2="34.30" y2="326.30" stroke="#444" stroke-width="0.7" />
<text x="31.00" y="369.50" font-family="Liberation Sans" font-size="8.6" font-weight="normal" font-style="normal" text-anchor="middle" fill="#1a1a1a" stroke="#1a1a1a" stroke-width="0.12">0</text>
<line x1="57.34" y1="359.30" x2="57.34" y2="356.70" stroke="#444" stroke-width="0.9" />
<text x="55.54" y="369.50" font-family="Liberation Sans" font-size="8.6" font-weight="normal" font-style="normal" text-anchor="middle" fill="#1a1a1a" stroke="#1a1a1a" stroke-width="0.12">200</text>
<line x1="81.89" y1="359.30" x2="81.89" y2="356.70" stroke="#444" stroke-width="0.9" />
<text x="80.09" y="369.50" font-family="Liberation Sans" font-size="8.6" font-weight="normal" font-style="normal" text-anchor="middle" fill="#1a1a1a" stroke="#1a1a1a" stroke-width="0.12">400</text>
<line x1="106.43" y1="359.30" x2="106.43" y2="356.70" stroke="#444" stroke-width="0.9" />
<text x="104.63" y="369.50" font-family="Liberation Sans" font-size="8.6" font-weight="normal" font-style="normal" text-anchor="middle" fill="#1a1a1a" stroke="#1a1a1a" stroke-width="0.12">600</text>
<line x1="130.97" y1="359.30" x2="130.97" y2="356.70" stroke="#444" stroke-width="0.9" />
<text x="129.17" y="369.50" font-family="Liberation Sans" font-size="8.6" font-weight="normal" font-style="normal" text-anchor="middle" fill="#1a1a1a" stroke="#1a1a1a" stroke-width="0.12">800</text>
<line x1="155.51" y1="359.30" x2="155.51" y2="356.70" stroke="#444" stroke-width="0.9" />
<text x="153.71" y="369.50" font-family="Liberation Sans" font-size="8.6" font-weight="normal" font-style="normal" text-anchor="middle" fill="#1a1a1a" stroke="#1a1a1a" stroke-width="0.12">1000</text>
<line x1="180.06" y1="359.30" x2="180.06" y2="356.70" stroke="#444" stroke-width="0.9" />
<text x="178.26" y="369.50" font-family="Liberation Sans" font-size="8.6" font-weight="normal" font-style="normal" text-anchor="middle" fill="#1a1a1a" stroke="#1a1a1a" stroke-width="0.12">1200</text>
<text x="202.80" y="369.50" font-family="Liberation Sans" font-size="8.6" font-weight="normal" font-style="normal" text-anchor="middle" fill="#1a1a1a" stroke="#1a1a1a" stroke-width="0.12">1400</text>
<text x="113.2" y="380.7" font-family="Liberation Sans" font-size="9.3" fill="#222"><tspan font-style="italic">t</tspan> (s)</text>
<text transform="translate(10.3,280.5) rotate(-90)" font-family="Liberation Sans" font-size="9.5" text-anchor="middle" fill="#222"><tspan font-style="italic">I</tspan><tspan font-size="6.5" dy="2.2">DS</tspan><tspan dy="-2.2"> (mA)</tspan></text>
<polyline points="32.80,342.60 56.00,340.30 56.80,339.50 70.60,338.40 71.20,337.90 84.00,336.80 84.60,336.40 110.40,334.50 111.00,333.00 124.00,332.00 126.00,330.70 137.60,330.40 138.60,329.40 150.00,329.00 150.60,325.00 164.50,322.40 165.50,321.00 166.50,312.00 167.40,306.00 168.80,302.50 171.00,298.00 173.90,295.40 178.00,294.00 185.00,293.90 186.00,285.00 187.00,262.00 188.20,247.00 190.80,239.30 195.80,236.80 204.50,236.00" fill="none" stroke="#b82a2a" stroke-width="1.2" stroke-linejoin="round" />
<line x1="56.30" y1="325.30" x2="56.30" y2="336.50" stroke="#111" stroke-width="0.7" />
<polygon points="56.30,339.50 55.00,336.00 57.60,336.00" fill="#111" stroke="none" stroke-width="1" />
<text transform="translate(58.90,317.00) rotate(-90)" font-family="Liberation Sans" font-size="7.4" text-anchor="middle" fill="#1a1a1a" stroke="#1a1a1a" stroke-width="0.18">1 nM</text>
<line x1="71.70" y1="324.40" x2="71.70" y2="334.70" stroke="#111" stroke-width="0.7" />
<polygon points="71.70,337.70 70.40,334.20 73.00,334.20" fill="#111" stroke="none" stroke-width="1" />
<text transform="translate(74.30,313.70) rotate(-90)" font-family="Liberation Sans" font-size="7.4" text-anchor="middle" fill="#1a1a1a" stroke="#1a1a1a" stroke-width="0.18">3 nM</text>
<line x1="84.70" y1="322.40" x2="84.70" y2="333.50" stroke="#111" stroke-width="0.7" />
<polygon points="84.70,336.50 83.40,333.00 86.00,333.00" fill="#111" stroke="none" stroke-width="1" />
<text transform="translate(87.30,312.00) rotate(-90)" font-family="Liberation Sans" font-size="7.4" text-anchor="middle" fill="#1a1a1a" stroke="#1a1a1a" stroke-width="0.18">10 nM</text>
<line x1="110.80" y1="318.20" x2="110.80" y2="330.40" stroke="#111" stroke-width="0.7" />
<polygon points="110.80,333.40 109.50,329.90 112.10,329.90" fill="#111" stroke="none" stroke-width="1" />
<text transform="translate(113.40,305.30) rotate(-90)" font-family="Liberation Sans" font-size="7.4" text-anchor="middle" fill="#1a1a1a" stroke="#1a1a1a" stroke-width="0.18">0.1 μM</text>
<line x1="124.10" y1="318.40" x2="124.10" y2="328.50" stroke="#111" stroke-width="0.7" />
<polygon points="124.10,331.50 122.80,328.00 125.40,328.00" fill="#111" stroke="none" stroke-width="1" />
<text transform="translate(126.70,305.80) rotate(-90)" font-family="Liberation Sans" font-size="7.4" text-anchor="middle" fill="#1a1a1a" stroke="#1a1a1a" stroke-width="0.18">0.3 μM</text>
<line x1="138.30" y1="316.50" x2="138.30" y2="325.50" stroke="#111" stroke-width="0.7" />
<polygon points="138.30,328.50 137.00,325.00 139.60,325.00" fill="#111" stroke="none" stroke-width="1" />
<text transform="translate(140.90,307.00) rotate(-90)" font-family="Liberation Sans" font-size="7.4" text-anchor="middle" fill="#1a1a1a" stroke="#1a1a1a" stroke-width="0.18">1 μM</text>
<line x1="150.00" y1="311.60" x2="150.00" y2="324.20" stroke="#111" stroke-width="0.7" />
<polygon points="150.00,327.20 148.70,323.70 151.30,323.70" fill="#111" stroke="none" stroke-width="1" />
<text transform="translate(152.60,303.00) rotate(-90)" font-family="Liberation Sans" font-size="7.4" text-anchor="middle" fill="#1a1a1a" stroke="#1a1a1a" stroke-width="0.18">3 μM</text>
<line x1="165.70" y1="305.60" x2="165.70" y2="317.80" stroke="#111" stroke-width="0.7" />
<polygon points="165.70,320.80 164.40,317.30 167.00,317.30" fill="#111" stroke="none" stroke-width="1" />
<text transform="translate(168.30,293.80) rotate(-90)" font-family="Liberation Sans" font-size="7.4" text-anchor="middle" fill="#1a1a1a" stroke="#1a1a1a" stroke-width="0.18">10 μM</text>
<line x1="184.60" y1="276.00" x2="184.60" y2="286.80" stroke="#111" stroke-width="0.7" />
<polygon points="184.60,289.80 183.30,286.30 185.90,286.30" fill="#111" stroke="none" stroke-width="1" />
<text transform="translate(185.70,263.50) rotate(-90)" font-family="Liberation Sans" font-size="7.4" text-anchor="middle" fill="#1a1a1a" stroke="#1a1a1a" stroke-width="0.18">30 μM</text>
<text x="155.40" y="336.90" font-family="Liberation Sans" font-size="10.4" font-weight="normal" font-style="italic" text-anchor="start" fill="#222" >V</text>
<text x="160.60" y="339.60" font-family="Liberation Sans" font-size="6.3" font-weight="normal" font-style="normal" text-anchor="start" fill="#222" textLength="8" lengthAdjust="spacingAndGlyphs">DS</text>
<text x="171.80" y="336.90" font-family="Liberation Sans" font-size="9.8" font-weight="normal" font-style="normal" text-anchor="start" fill="#222" textLength="28.4" lengthAdjust="spacingAndGlyphs">= -0.1 V</text>
<text x="157.60" y="350.30" font-family="Liberation Sans" font-size="10.4" font-weight="normal" font-style="italic" text-anchor="start" fill="#222" >V</text>
<text x="162.80" y="353.00" font-family="Liberation Sans" font-size="6.3" font-weight="normal" font-style="normal" text-anchor="start" fill="#222" textLength="8" lengthAdjust="spacingAndGlyphs">GS</text>
<text x="173.60" y="350.30" font-family="Liberation Sans" font-size="9.8" font-weight="normal" font-style="normal" text-anchor="start" fill="#222" textLength="26.8" lengthAdjust="spacingAndGlyphs">= 0.2 V</text>
<defs><linearGradient id="pg" x1="0" y1="0" x2="1" y2="0.4"><stop offset="0" stop-color="#1a2e98"/><stop offset="0.45" stop-color="#2844b8"/><stop offset="1" stop-color="#3a5cd0"/></linearGradient><radialGradient id="pdev" cx="0.5" cy="0.35" r="0.6"><stop offset="0" stop-color="#a4aab8"/><stop offset="1" stop-color="#5e6676"/></radialGradient><clipPath id="pc"><rect x="120.2" y="210.2" width="56" height="44.3"/></clipPath></defs>
<g clip-path="url(#pc)">
<rect x="120.20" y="210.20" width="56.00" height="44.30" fill="#cdd0d8" stroke="none" stroke-width="1" />
<path d="M120.2,210.2 L171.4,210.2 C174.6,216 175.6,226 174.8,232 C173.8,242 170,248.5 164.8,254.5 L120.2,254.5 Z" fill="url(#pg)"/>
<path d="M124,211 C136,210.5 156,211.5 168,216 C170,220 166,223 158,223 C146,223 134,222 127,219 C123,217 122,213 124,211 Z" fill="#4e6ee2" opacity="0.55"/>
<path d="M130,240 C142,239.5 160,238.5 171,236 C170,244 162,251 148,252.5 C138,253 130,249 130,240 Z" fill="#4c6ade" opacity="0.5"/>
<path d="M120.2,218 C124.5,228 124.5,243 121.5,254.5 L120.2,254.5 Z" fill="#16257e" opacity="0.8"/>
<path d="M122,222.5 C128,224 131,226 132.6,228" stroke="#1a2a88" stroke-width="1.2" fill="none" opacity="0.7"/>
<path d="M133,226.2 Q132.2,231.2 133,236.4 L146,238.2 L146,223.8 Z" fill="url(#pdev)"/>
<line x1="134.00" y1="227.50" x2="145.50" y2="227.30" stroke="#8c94a4" stroke-width="0.4" />
<line x1="134.00" y1="229.50" x2="145.50" y2="229.30" stroke="#8c94a4" stroke-width="0.4" />
<line x1="134.00" y1="231.50" x2="145.50" y2="231.30" stroke="#8c94a4" stroke-width="0.4" />
<line x1="134.00" y1="233.50" x2="145.50" y2="233.30" stroke="#8c94a4" stroke-width="0.4" />
<line x1="134.00" y1="235.50" x2="145.50" y2="235.30" stroke="#8c94a4" stroke-width="0.4" />
<rect x="146.00" y="223.60" width="3.90" height="14.80" fill="#121218" stroke="none" stroke-width="1" />
<path d="M149.9,223.3 L161,223.6 Q164,231 161,238.6 L149.9,238.6 Z" fill="#c4c6dc"/>
<path d="M152.5,224.5 L158,224.5 Q159,228 157.5,231.5 L152.5,231.5 Z" fill="#f2f2fa"/>
<rect x="154.20" y="232.80" width="3.00" height="2.40" fill="#8a6a50" stroke="none" stroke-width="1" />
</g>
<text x="41.80" y="217.20" font-family="Liberation Sans" font-size="5.3" font-weight="bold" font-style="normal" text-anchor="start" fill="#3a5cb8" textLength="61" lengthAdjust="spacingAndGlyphs">Electro-oxidation of DA</text>
<polygon points="46.80,222.30 51.30,224.90 51.30,230.10 46.80,232.70 42.30,230.10 42.30,224.90" fill="none" stroke="#2a2a2a" stroke-width="0.6" />
<line x1="44.20" y1="225.60" x2="44.20" y2="229.40" stroke="#2a2a2a" stroke-width="0.45" />
<text x="35.90" y="225.60" font-family="Liberation Sans" font-size="3.7" font-weight="normal" font-style="normal" text-anchor="start" fill="#2a2a2a" >HO</text>
<text x="35.90" y="233.80" font-family="Liberation Sans" font-size="3.7" font-weight="normal" font-style="normal" text-anchor="start" fill="#2a2a2a" >HO</text>
<line x1="40.40" y1="224.60" x2="42.30" y2="224.90" stroke="#2a2a2a" stroke-width="0.5" />
<line x1="40.40" y1="232.20" x2="42.30" y2="230.10" stroke="#2a2a2a" stroke-width="0.5" />
<line x1="51.30" y1="224.90" x2="54.00" y2="223.80" stroke="#2a2a2a" stroke-width="0.5" />
<text x="54.10" y="226.00" font-family="Liberation Sans" font-size="3.7" font-weight="normal" font-style="normal" text-anchor="start" fill="#2a2a2a" textLength="20.7" lengthAdjust="spacingAndGlyphs">CH₂CH₂NH₂</text>
<polygon points="86.80,222.30 91.30,224.90 91.30,230.10 86.80,232.70 82.30,230.10 82.30,224.90" fill="none" stroke="#2a2a2a" stroke-width="0.6" />
<text x="78.80" y="225.20" font-family="Liberation Sans" font-size="3.9" font-weight="normal" font-style="normal" text-anchor="start" fill="#2a2a2a" >O</text>
<text x="78.80" y="233.60" font-family="Liberation Sans" font-size="3.9" font-weight="normal" font-style="normal" text-anchor="start" fill="#2a2a2a" >O</text>
<line x1="81.40" y1="224.20" x2="82.30" y2="224.90" stroke="#2a2a2a" stroke-width="0.5" />
<line x1="81.40" y1="231.60" x2="82.30" y2="230.10" stroke="#2a2a2a" stroke-width="0.5" />
<line x1="91.30" y1="224.90" x2="94.00" y2="223.80" stroke="#2a2a2a" stroke-width="0.5" />
<text x="94.90" y="226.00" font-family="Liberation Sans" font-size="3.7" font-weight="normal" font-style="normal" text-anchor="start" fill="#2a2a2a" textLength="21.3" lengthAdjust="spacingAndGlyphs">CH₂CH₂NH₂</text>
<path d="M43.9,258.1 C52,252 61,247 71,244.2 C88,246.5 105,252.5 119.3,261.1 C105,266 92,271 80,277.2 C68,270 55,263 43.9,258.1 Z" fill="#e3e5eb"/>
<path d="M80,277.2 C92,271 105,266 119.3,261.1 L119.3,262.2 C105,267.2 92,272.3 80,278.4 C68,271.2 55,264.2 43.9,258.1 C55,263 68,270 80,277.2 Z" fill="#b8bac4"/>
<defs><linearGradient id="gg" x1="0" y1="0" x2="1" y2="0"><stop offset="0" stop-color="#3e7e1e"/><stop offset="0.5" stop-color="#4e9024"/><stop offset="1" stop-color="#86c03c"/></linearGradient></defs>
<path d="M55.4,236.4 L58.6,236.2 C60.5,242.5 65.5,247 72.5,248 C79.5,248.6 85.6,246 89.2,241.6 L87.8,240.4 L95.6,237.4 L93.8,245 L92.4,243.6 C88.4,248.6 81.5,250.6 72.5,250.2 C63.5,249.6 57,244.4 55.4,236.4 Z" fill="url(#gg)"/>
<polygon points="56.10,259.00 56.80,254.30 82.70,244.60 86.60,249.00" fill="#7b6ac4" stroke="none" stroke-width="1" />
<line x1="57.50" y1="256.00" x2="83.50" y2="246.60" stroke="#6656b4" stroke-width="0.8" />
<line x1="57.50" y1="257.80" x2="85.00" y2="248.20" stroke="#8e80d0" stroke-width="0.5" />
<polygon points="82.00,255.60 100.00,250.20 105.20,253.60 104.50,255.50 86.50,261.40" fill="#4e5daa" stroke="none" stroke-width="1" />
<line x1="84.00" y1="256.60" x2="101.50" y2="251.40" stroke="#7886c6" stroke-width="0.5" />
<line x1="85.50" y1="258.60" x2="103.50" y2="253.20" stroke="#7886c6" stroke-width="0.5" />
<polygon points="63.60,264.20 79.60,258.20 84.50,260.60 76.50,263.80 78.60,266.00 72.50,268.40 70.60,266.20 68.20,267.30" fill="#bfc72c" stroke="none" stroke-width="1" />
<polygon points="70.50,268.80 80.50,264.60 84.60,266.80 84.60,269.60 76.40,273.20 72.50,271.00" fill="#bfc72c" stroke="none" stroke-width="1" />
<text x="72.80" y="247.30" font-family="Liberation Sans" font-size="6.8" font-weight="bold" font-style="normal" text-anchor="start" fill="#4466c4" >-2e</text>
<polyline points="55.60,262.40 52.30,269.50 52.30,277.90" fill="none" stroke="#78a0d4" stroke-width="0.5" stroke-linejoin="round" />
<circle cx="52.30" cy="280.20" r="2.30" fill="#fff" stroke="#78a0d4" stroke-width="0.5" />
<polyline points="52.30,282.50 52.30,290.80" fill="none" stroke="#78a0d4" stroke-width="0.5" stroke-linejoin="round" />
<polygon points="50.80,290.40 53.80,290.40 52.30,292.20" fill="none" stroke="#78a0d4" stroke-width="0.5" />
<polyline points="52.30,284.70 66.00,291.60 66.00,282.00" fill="none" stroke="#78a0d4" stroke-width="0.5" stroke-linejoin="round" />
<polyline points="64.50,268.00 59.10,276.00 59.10,288.50 66.00,288.50" fill="none" stroke="#78a0d4" stroke-width="0.5" stroke-linejoin="round" />
<polygon points="59.40,277.00 65.50,273.20 66.50,281.00 60.50,284.00" fill="#dcdfe6" stroke="none" stroke-width="1" />
<circle cx="62.40" cy="285.60" r="2.10" fill="#fff" stroke="#78a0d4" stroke-width="0.5" />
<text transform="translate(55,263.8) rotate(30)" font-family="Liberation Sans" font-size="2.4" font-weight="bold" fill="#3a5cb8">Ga</text>
<text transform="translate(64.5,268.8) rotate(30)" font-family="Liberation Sans" font-size="2.4" font-weight="bold" fill="#3a5cb8">Drain</text>
<text transform="translate(71,272.5) rotate(30)" font-family="Liberation Sans" font-size="2.4" font-weight="bold" fill="#3a5cb8">Source</text>
<text transform="translate(96,264.5) rotate(-25)" font-family="Liberation Sans" font-size="2.4" font-weight="bold" fill="#3a5cb8">Substrate</text>
<text transform="translate(97.5,257.8) rotate(-20)" font-family="Liberation Sans" font-size="2.4" font-weight="bold" fill="#3a5cb8">Channel</text>
<text x="218.40" y="195.80" font-family="Liberation Sans" font-size="18.6" font-weight="bold" font-style="normal" text-anchor="start" fill="#000" >(e)</text>
<line x1="245.30" y1="186.00" x2="245.30" y2="392.00" stroke="#f0f0f0" stroke-width="0.6" />
<path d="M268.8,347.6 A93.7,70.1 0 0 1 456.2,347.6 Z" fill="#dcdcdc"/>
<rect x="268.20" y="356.10" width="187.00" height="16.10" fill="#dde9f4" stroke="none" stroke-width="1" />
<rect x="268.20" y="347.80" width="186.50" height="8.30" fill="#0f1f66" stroke="none" stroke-width="1" />
<rect x="277.00" y="349.10" width="25.00" height="7.00" fill="#f4f43a" stroke="none" stroke-width="1" />
<text x="289.50" y="355.30" font-family="Liberation Sans" font-size="5" font-weight="normal" font-style="normal" text-anchor="middle" fill="#333" >s</text>
<rect x="325.00" y="349.10" width="24.80" height="7.00" fill="#f4f43a" stroke="none" stroke-width="1" />
<text x="337.40" y="355.30" font-family="Liberation Sans" font-size="5" font-weight="normal" font-style="normal" text-anchor="middle" fill="#333" >d</text>
<rect x="372.90" y="349.10" width="24.90" height="7.00" fill="#f4f43a" stroke="none" stroke-width="1" />
<text x="385.35" y="355.30" font-family="Liberation Sans" font-size="5" font-weight="normal" font-style="normal" text-anchor="middle" fill="#333" >s</text>
<rect x="420.90" y="349.10" width="25.20" height="7.00" fill="#f4f43a" stroke="none" stroke-width="1" />
<text x="433.50" y="355.30" font-family="Liberation Sans" font-size="5" font-weight="normal" font-style="normal" text-anchor="middle" fill="#333" >d</text>
<rect x="307.00" y="190.10" width="6.50" height="91.20" fill="#a6a6a6" stroke="none" stroke-width="1" />
<path d="M313.5,190.1 L338.4,190.1 Q340.4,190.1 340.4,192.1 L340.4,278.3 Q340.4,281.3 337.4,281.3 L316.5,281.3 Q313.5,281.3 313.5,278.3 Z" fill="#ff2012" stroke="#8060a0" stroke-width="0.5"/>
<polygon points="318.40,196.60 322.70,200.90 318.40,205.20 314.10,200.90" fill="#fff" stroke="none" stroke-width="1" />
<polygon points="331.70,209.90 336.00,214.20 331.70,218.50 327.40,214.20" fill="#fff" stroke="none" stroke-width="1" />
<polygon points="335.30,226.00 339.60,230.30 335.30,234.60 331.00,230.30" fill="#fff" stroke="none" stroke-width="1" />
<polygon points="326.00,234.70 330.30,239.00 326.00,243.30 321.70,239.00" fill="#fff" stroke="none" stroke-width="1" />
<polygon points="318.40,260.70 322.70,265.00 318.40,269.30 314.10,265.00" fill="#fff" stroke="none" stroke-width="1" />
<polygon points="334.90,259.40 339.20,263.70 334.90,268.00 330.60,263.70" fill="#fff" stroke="none" stroke-width="1" />
<polygon points="335.30,194.20 340.10,199.00 335.30,203.80 330.50,199.00" fill="#6a3ab0" stroke="none" stroke-width="1" />
<polygon points="318.80,218.90 323.60,223.70 318.80,228.50 314.00,223.70" fill="#6a3ab0" stroke="none" stroke-width="1" />
<polygon points="323.50,246.20 328.30,251.00 323.50,255.80 318.70,251.00" fill="#6a3ab0" stroke="none" stroke-width="1" />
<polygon points="326.60,267.20 331.40,272.00 326.60,276.80 321.80,272.00" fill="#6a3ab0" stroke="none" stroke-width="1" />
<line x1="307.90" y1="190.20" x2="269.30" y2="311.80" stroke="#333" stroke-width="0.6" />
<line x1="307.60" y1="281.60" x2="292.40" y2="312.70" stroke="#333" stroke-width="0.6" />
<rect x="268.90" y="311.70" width="23.50" height="3.30" fill="#a6a6a6" stroke="none" stroke-width="1" />
<text x="247.60" y="306.30" font-family="Liberation Sans" font-size="10.1" font-weight="bold" font-style="normal" text-anchor="start" fill="#151515" textLength="22.1" lengthAdjust="spacingAndGlyphs">Gate</text>
<circle cx="288.30" cy="324.90" r="4.20" fill="#80f060" stroke="none" stroke-width="1" />
<circle cx="322.20" cy="296.30" r="4.20" fill="#80f060" stroke="none" stroke-width="1" />
<circle cx="348.20" cy="288.10" r="4.20" fill="#80f060" stroke="none" stroke-width="1" />
<circle cx="380.60" cy="285.50" r="4.20" fill="#80f060" stroke="none" stroke-width="1" />
<circle cx="389.30" cy="298.60" r="4.20" fill="#80f060" stroke="none" stroke-width="1" />
<circle cx="369.80" cy="313.20" r="4.20" fill="#80f060" stroke="none" stroke-width="1" />
<circle cx="359.90" cy="323.40" r="4.20" fill="#80f060" stroke="none" stroke-width="1" />
<circle cx="341.80" cy="333.40" r="4.20" fill="#80f060" stroke="none" stroke-width="1" />
<circle cx="384.10" cy="334.20" r="4.20" fill="#80f060" stroke="none" stroke-width="1" />
<circle cx="411.80" cy="335.70" r="4.20" fill="#80f060" stroke="none" stroke-width="1" />
<circle cx="423.50" cy="305.00" r="4.20" fill="#80f060" stroke="none" stroke-width="1" />
<circle cx="439.60" cy="324.90" r="4.20" fill="#80f060" stroke="none" stroke-width="1" />
<circle cx="361.90" cy="214.90" r="4.70" fill="#80f060" stroke="none" stroke-width="1" />
<rect x="286.60" y="334.80" width="6.4" height="6.4" fill="#6a3ab0" transform="rotate(20 289.80 338.00)"/>
<rect x="332.70" y="309.10" width="6.4" height="6.4" fill="#6a3ab0" transform="rotate(20 335.90 312.30)"/>
<rect x="358.10" y="293.10" width="6.4" height="6.4" fill="#6a3ab0" transform="rotate(20 361.30 296.30)"/>
<rect x="429.10" y="332.50" width="6.4" height="6.4" fill="#6a3ab0" transform="rotate(20 432.30 335.70)"/>
<polygon points="362.00,259.40 367.00,264.40 362.00,269.40 357.00,264.40" fill="#6a3ab0" stroke="none" stroke-width="1" />
<text x="384.80" y="321.70" font-family="Liberation Sans" font-size="10.2" font-weight="bold" font-style="normal" text-anchor="start" fill="#151515" textLength="49.1" lengthAdjust="spacingAndGlyphs">PBS buffer</text>
<text x="348.60" y="205.40" font-family="Liberation Sans" font-size="10.0" font-weight="bold" font-style="normal" text-anchor="start" fill="#151515" textLength="48.6" lengthAdjust="spacingAndGlyphs">Ascorbate</text>
<text x="350.10" y="254.80" font-family="Liberation Sans" font-size="10.0" font-weight="bold" font-style="normal" text-anchor="start" fill="#151515" textLength="49.3" lengthAdjust="spacingAndGlyphs">Dopamine</text>
<path d="M355.4,215.7 L343.4,215.7 Q341.4,215.7 341.4,213.8 Q341.4,211.9 343.4,211.9 L350,211.9" fill="none" stroke="#111" stroke-width="0.95"/>
<polygon points="352.30,211.90 349.30,210.50 349.30,213.30" fill="#111" stroke="none" stroke-width="1" />
<line x1="350.20" y1="264.40" x2="339.00" y2="264.40" stroke="#111" stroke-width="0.9" />
<polygon points="336.00,264.40 340.00,262.60 340.00,266.20" fill="#111" stroke="none" stroke-width="1" />
<polyline points="268.90,313.40 253.30,313.40 253.30,364.50 386.00,364.50 386.00,356.00" fill="none" stroke="#222" stroke-width="0.8" stroke-linejoin="round" />
<circle cx="253.10" cy="337.80" r="8.30" fill="#fff" stroke="#222" stroke-width="0.8" />
<polygon points="253.10,333.50 250.50,339.50 255.70,339.50" fill="#111" stroke="none" stroke-width="1" />
<line x1="253.10" y1="339.50" x2="253.10" y2="346.00" stroke="#222" stroke-width="0.8" />
<polyline points="289.20,356.00 289.20,383.80 302.50,383.80" fill="none" stroke="#222" stroke-width="0.8" stroke-linejoin="round" />
<polyline points="282.30,383.80 289.20,383.80" fill="none" stroke="#222" stroke-width="0.8" stroke-linejoin="round" />
<circle cx="311.00" cy="383.80" r="8.30" fill="#fff" stroke="#222" stroke-width="0.8" />
<polygon points="315.50,383.80 309.00,381.00 309.00,386.60" fill="#111" stroke="none" stroke-width="1" />
<polyline points="319.30,383.80 433.50,383.80 433.50,356.00" fill="none" stroke="#222" stroke-width="0.8" stroke-linejoin="round" />
<path d="M337.8,356 L337.8,362.5 Q340,363.2 339.5,364.5 Q339,365.8 337.8,366.5 L337.8,383.8" fill="none" stroke="#222" stroke-width="0.8"/>
<line x1="282.30" y1="380.50" x2="282.30" y2="387.20" stroke="#222" stroke-width="0.8" />
<line x1="280.40" y1="381.50" x2="280.40" y2="386.20" stroke="#222" stroke-width="0.7" />
<line x1="278.50" y1="382.50" x2="278.50" y2="385.20" stroke="#222" stroke-width="0.6" />
<text x="433.00" y="196.80" font-family="Liberation Sans" font-size="18.6" font-weight="bold" font-style="normal" text-anchor="start" fill="#000" >(f)</text>
<rect x="503.60" y="196.80" width="177.70" height="192.30" fill="none" stroke="#111" stroke-width="1.5" />
<line x1="500.60" y1="388.50" x2="503.60" y2="388.50" stroke="#111" stroke-width="1" />
<text x="496.90" y="392.40" font-family="Liberation Sans" font-size="11.2" font-weight="normal" font-style="normal" text-anchor="end" fill="#1a1a1a" >0.0</text>
<line x1="500.60" y1="361.30" x2="503.60" y2="361.30" stroke="#111" stroke-width="1" />
<text x="496.90" y="365.20" font-family="Liberation Sans" font-size="11.2" font-weight="normal" font-style="normal" text-anchor="end" fill="#1a1a1a" >0.2</text>
<line x1="500.60" y1="334.10" x2="503.60" y2="334.10" stroke="#111" stroke-width="1" />
<text x="496.90" y="338.00" font-family="Liberation Sans" font-size="11.2" font-weight="normal" font-style="normal" text-anchor="end" fill="#1a1a1a" >0.4</text>
<line x1="500.60" y1="306.90" x2="503.60" y2="306.90" stroke="#111" stroke-width="1" />
<text x="496.90" y="310.80" font-family="Liberation Sans" font-size="11.2" font-weight="normal" font-style="normal" text-anchor="end" fill="#1a1a1a" >0.6</text>
<line x1="500.60" y1="279.70" x2="503.60" y2="279.70" stroke="#111" stroke-width="1" />
<text x="496.90" y="283.60" font-family="Liberation Sans" font-size="11.2" font-weight="normal" font-style="normal" text-anchor="end" fill="#1a1a1a" >0.8</text>
<line x1="500.60" y1="252.50" x2="503.60" y2="252.50" stroke="#111" stroke-width="1" />
<text x="496.90" y="256.40" font-family="Liberation Sans" font-size="11.2" font-weight="normal" font-style="normal" text-anchor="end" fill="#1a1a1a" >1.0</text>
<line x1="500.60" y1="225.30" x2="503.60" y2="225.30" stroke="#111" stroke-width="1" />
<text x="496.90" y="229.20" font-family="Liberation Sans" font-size="11.2" font-weight="normal" font-style="normal" text-anchor="end" fill="#1a1a1a" >1.2</text>
<line x1="500.60" y1="198.10" x2="503.60" y2="198.10" stroke="#111" stroke-width="1" />
<text x="496.90" y="202.00" font-family="Liberation Sans" font-size="11.2" font-weight="normal" font-style="normal" text-anchor="end" fill="#1a1a1a" >1.4</text>
<line x1="501.80" y1="374.90" x2="503.60" y2="374.90" stroke="#111" stroke-width="0.9" />
<line x1="501.80" y1="347.70" x2="503.60" y2="347.70" stroke="#111" stroke-width="0.9" />
<line x1="501.80" y1="320.50" x2="503.60" y2="320.50" stroke="#111" stroke-width="0.9" />
<line x1="501.80" y1="293.30" x2="503.60" y2="293.30" stroke="#111" stroke-width="0.9" />
<line x1="501.80" y1="266.10" x2="503.60" y2="266.10" stroke="#111" stroke-width="0.9" />
<line x1="501.80" y1="238.90" x2="503.60" y2="238.90" stroke="#111" stroke-width="0.9" />
<line x1="501.80" y1="211.70" x2="503.60" y2="211.70" stroke="#111" stroke-width="0.9" />
<text transform="translate(478.9,290.4) rotate(-90)" font-family="Liberation Sans" font-size="11.1" text-anchor="middle" fill="#1a1a1a">NCR</text>
<rect x="510.60" y="262.02" width="9.80" height="127.08" fill="#ff2010" stroke="#111" stroke-width="0.9" />
<line x1="515.50" y1="259.84" x2="515.50" y2="264.20" stroke="#222" stroke-width="0.7" />
<line x1="511.50" y1="259.84" x2="519.50" y2="259.84" stroke="#222" stroke-width="0.9" />
<line x1="511.50" y1="264.20" x2="519.50" y2="264.20" stroke="#222" stroke-width="0.9" />
<rect x="522.40" y="279.70" width="9.80" height="109.40" fill="#1010f8" stroke="#111" stroke-width="0.9" />
<line x1="527.30" y1="277.25" x2="527.30" y2="282.15" stroke="#222" stroke-width="0.7" />
<line x1="523.30" y1="277.25" x2="531.30" y2="277.25" stroke="#222" stroke-width="0.9" />
<line x1="523.30" y1="282.15" x2="531.30" y2="282.15" stroke="#222" stroke-width="0.9" />
<rect x="534.60" y="279.70" width="9.80" height="109.40" fill="#ff2010" stroke="#111" stroke-width="0.9" />
<line x1="539.50" y1="271.27" x2="539.50" y2="288.13" stroke="#222" stroke-width="0.7" />
<line x1="535.50" y1="271.27" x2="543.50" y2="271.27" stroke="#222" stroke-width="0.9" />
<line x1="535.50" y1="288.13" x2="543.50" y2="288.13" stroke="#222" stroke-width="0.9" />
<rect x="546.30" y="315.06" width="9.80" height="74.04" fill="#1010f8" stroke="#111" stroke-width="0.9" />
<line x1="551.20" y1="310.98" x2="551.20" y2="319.14" stroke="#222" stroke-width="0.7" />
<line x1="547.20" y1="310.98" x2="555.20" y2="310.98" stroke="#222" stroke-width="0.9" />
<line x1="547.20" y1="319.14" x2="555.20" y2="319.14" stroke="#222" stroke-width="0.9" />
<rect x="558.60" y="369.46" width="9.80" height="19.64" fill="#ff2010" stroke="#111" stroke-width="0.9" />
<line x1="563.50" y1="361.30" x2="563.50" y2="377.62" stroke="#222" stroke-width="0.7" />
<line x1="559.50" y1="361.30" x2="567.50" y2="361.30" stroke="#222" stroke-width="0.9" />
<line x1="559.50" y1="377.62" x2="567.50" y2="377.62" stroke="#222" stroke-width="0.9" />
<rect x="569.80" y="366.74" width="9.80" height="22.36" fill="#1010f8" stroke="#111" stroke-width="0.9" />
<line x1="574.70" y1="361.57" x2="574.70" y2="371.91" stroke="#222" stroke-width="0.7" />
<line x1="570.70" y1="361.57" x2="578.70" y2="361.57" stroke="#222" stroke-width="0.9" />
<line x1="570.70" y1="371.91" x2="578.70" y2="371.91" stroke="#222" stroke-width="0.9" />
<rect x="605.40" y="266.10" width="9.80" height="123.00" fill="#a020f0" stroke="#111" stroke-width="0.9" />
<line x1="610.30" y1="260.80" x2="610.30" y2="271.40" stroke="#222" stroke-width="0.7" />
<line x1="606.30" y1="260.80" x2="614.30" y2="260.80" stroke="#222" stroke-width="0.9" />
<line x1="606.30" y1="271.40" x2="614.30" y2="271.40" stroke="#222" stroke-width="0.9" />
<rect x="617.40" y="346.34" width="9.80" height="42.76" fill="#40f020" stroke="#111" stroke-width="0.9" />
<line x1="622.30" y1="341.58" x2="622.30" y2="351.10" stroke="#222" stroke-width="0.7" />
<line x1="618.30" y1="341.58" x2="626.30" y2="341.58" stroke="#222" stroke-width="0.9" />
<line x1="618.30" y1="351.10" x2="626.30" y2="351.10" stroke="#222" stroke-width="0.9" />
<rect x="629.40" y="279.70" width="9.80" height="109.40" fill="#a020f0" stroke="#111" stroke-width="0.9" />
<line x1="634.30" y1="270.32" x2="634.30" y2="289.08" stroke="#222" stroke-width="0.7" />
<line x1="630.30" y1="270.32" x2="638.30" y2="270.32" stroke="#222" stroke-width="0.9" />
<line x1="630.30" y1="289.08" x2="638.30" y2="289.08" stroke="#222" stroke-width="0.9" />
<rect x="641.00" y="378.98" width="9.80" height="10.12" fill="#40f020" stroke="#111" stroke-width="0.9" />
<line x1="645.90" y1="376.40" x2="645.90" y2="381.56" stroke="#222" stroke-width="0.7" />
<line x1="641.90" y1="376.40" x2="649.90" y2="376.40" stroke="#222" stroke-width="0.9" />
<line x1="641.90" y1="381.56" x2="649.90" y2="381.56" stroke="#222" stroke-width="0.9" />
<rect x="653.00" y="336.82" width="9.80" height="52.28" fill="#a020f0" stroke="#111" stroke-width="0.9" />
<line x1="657.90" y1="318.87" x2="657.90" y2="354.77" stroke="#222" stroke-width="0.7" />
<line x1="653.90" y1="318.87" x2="661.90" y2="318.87" stroke="#222" stroke-width="0.9" />
<line x1="653.90" y1="354.77" x2="661.90" y2="354.77" stroke="#222" stroke-width="0.9" />
<rect x="665.20" y="381.70" width="9.80" height="7.40" fill="#40f020" stroke="#111" stroke-width="0.9" />
<line x1="670.10" y1="379.12" x2="670.10" y2="384.28" stroke="#222" stroke-width="0.7" />
<line x1="666.10" y1="379.12" x2="674.10" y2="379.12" stroke="#222" stroke-width="0.9" />
<line x1="666.10" y1="384.28" x2="674.10" y2="384.28" stroke="#222" stroke-width="0.9" />
<rect x="513.00" y="201.10" width="16.60" height="8.00" fill="#ff2010" stroke="#111" stroke-width="1.0" />
<rect x="513.00" y="211.00" width="16.60" height="8.00" fill="#1010f8" stroke="#111" stroke-width="1.0" />
<rect x="560.80" y="201.10" width="16.60" height="8.00" fill="#a020f0" stroke="#111" stroke-width="1.0" />
<rect x="560.80" y="211.00" width="16.60" height="8.00" fill="#40f020" stroke="#111" stroke-width="1.0" />
<text x="531.80" y="207.80" font-family="Liberation Sans" font-size="7.8" font-weight="normal" font-style="normal" text-anchor="start" fill="#222" >DA, Pt</text>
<text x="531.80" y="217.80" font-family="Liberation Sans" font-size="7.8" font-weight="normal" font-style="normal" text-anchor="start" fill="#222" >AA, Pt</text>
<text x="579.60" y="207.80" font-family="Liberation Sans" font-size="7.6" font-weight="normal" font-style="normal" text-anchor="start" fill="#222" >DA, o-MIP/Pt</text>
<text x="579.60" y="217.80" font-family="Liberation Sans" font-size="7.6" font-weight="normal" font-style="normal" text-anchor="start" fill="#222" >AA, o-MIP/Pt</text>
<polyline points="515.20,257.30 515.20,252.60 527.40,252.60 527.40,257.30" fill="none" stroke="#222" stroke-width="0.8" stroke-linejoin="round" />
<text x="521.30" y="246.20" font-family="Liberation Sans" font-size="6.8" font-weight="normal" font-style="normal" text-anchor="middle" fill="#333" >88 μM</text>
<polyline points="539.20,266.40 539.20,261.30 551.40,261.30 551.40,266.40" fill="none" stroke="#222" stroke-width="0.8" stroke-linejoin="round" />
<text x="546.80" y="257.30" font-family="Liberation Sans" font-size="6.8" font-weight="normal" font-style="normal" text-anchor="middle" fill="#333" >8.8 μM</text>
<polyline points="562.70,357.80 562.70,353.00 575.80,353.00 575.80,357.80" fill="none" stroke="#222" stroke-width="0.8" stroke-linejoin="round" />
<text x="573.40" y="347.30" font-family="Liberation Sans" font-size="6.8" font-weight="normal" font-style="normal" text-anchor="middle" fill="#333" >0.35 μM</text>
<polyline points="610.50,257.00 610.50,252.20 622.40,252.20 622.40,257.00" fill="none" stroke="#222" stroke-width="0.8" stroke-linejoin="round" />
<text x="617.80" y="246.40" font-family="Liberation Sans" font-size="6.8" font-weight="normal" font-style="normal" text-anchor="middle" fill="#333" >88 μM</text>
<polyline points="634.30,267.20 634.30,262.70 646.40,262.70 646.40,267.20" fill="none" stroke="#222" stroke-width="0.8" stroke-linejoin="round" />
<text x="642.70" y="257.40" font-family="Liberation Sans" font-size="6.8" font-weight="normal" font-style="normal" text-anchor="middle" fill="#333" >8.8 μM</text>
<polyline points="658.30,315.00 658.30,310.40 669.90,310.40 669.90,315.00" fill="none" stroke="#222" stroke-width="0.8" stroke-linejoin="round" />
<text x="664.10" y="304.20" font-family="Liberation Sans" font-size="6.8" font-weight="normal" font-style="normal" text-anchor="middle" fill="#333" >0.35 μM</text>
</svg>
</body></html>
